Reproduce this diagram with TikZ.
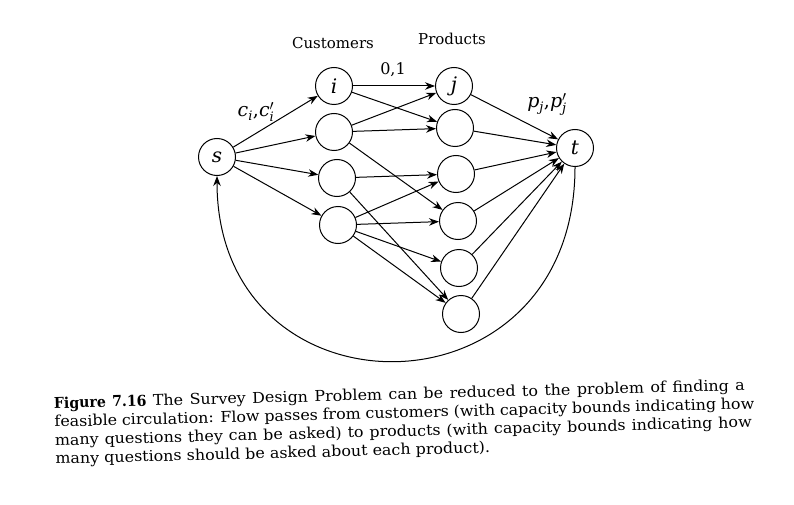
\documentclass[tikz,border=0pt]{standalone}
\usepackage{fontspec}
\setmainfont{DejaVu Serif}
\newfontfamily\capfont{DejaVu Serif}[FakeStretch=1.06]
\newfontfamily\figlab{DejaVu Serif}[FakeStretch=0.94]
\usetikzlibrary{arrows.meta}
\newcommand\subsm[1]{\mbox{\fontsize{13}{13}\selectfont\itshape #1}}
\begin{document}
\begin{tikzpicture}[x=1pt,y=-1pt,
  vtx/.style={circle,draw,line width=1pt,minimum size=37pt,inner sep=0pt,font=\fontsize{20}{24}\selectfont\itshape},
  arr/.style={line width=1pt,-{Stealth[length=10pt,width=7.5pt,inset=3.2pt]}},
  lbl/.style={font=\fontsize{15}{18.5}\selectfont,inner sep=0pt},
  mlbl/.style={font=\fontsize{19}{22}\selectfont,inner sep=0pt}]
\path[use as bounding box] (0,0) rectangle (794,505);
% nodes
\node[vtx] (s) at (217,157) {s};
\node[vtx] (c1) at (334,86) {i};
\node[vtx] (c2) at (334,132) {};
\node[vtx] (c3) at (337,178) {};
\node[vtx] (c4) at (338,225) {};
\node[vtx] (p1) at (454,86) {j};
\node[vtx] (p2) at (455,128) {};
\node[vtx] (p3) at (456,174) {};
\node[vtx] (p4) at (458,221) {};
\node[vtx] (p5) at (459,268) {};
\node[vtx] (p6) at (461,314) {};
\node[vtx] (t) at (575,148) {t};
% labels
\node[lbl,anchor=base] (cust) at (333,49) {Customers};
\node[lbl,anchor=base] (prod) at (452,45) {Products};
\node[lbl,font=\fontsize{16}{18}\selectfont,anchor=base] (l01) at (393,75) {0,1};
\node[mlbl,anchor=base] (lc) at (256,117) {\textit{c}$_{\subsm{i}}$,\textit{c}$^{\prime}_{\subsm{i}}$};
\node[mlbl,anchor=base] (lp) at (547,108) {\textit{p}$_{\subsm{j}}$,\textit{p}$^{\prime}_{\subsm{j}}$};
% edges
\foreach \c in {c1,c2,c3,c4} \draw[arr] (s) -- (\c);
\draw[arr] (c1) -- (p1);
\draw[arr] (c1) -- (p2);
\draw[arr] (c2) -- (p1);
\draw[arr] (c2) -- (p2);
\draw[arr] (c2) -- (p4);
\draw[arr] (c3) -- (p3);
\draw[arr] (c3) -- (p6);
\draw[arr] (c4) -- (p3);
\draw[arr] (c4) -- (p4);
\draw[arr] (c4) -- (p5);
\draw[arr] (c4) -- (p6);
\foreach \p in {p1,p2,p3,p4,p5,p6} \draw[arr] (\p) -- (t);
\draw[arr] (t.south) .. controls +(0,257) and +(0,248) .. (s.south);
% caption
\node[lbl,anchor=base west,rotate=1.5] (cap) at (54,408.5) {\capfont\vtop{\baselineskip=18.5pt
\hbox to 691pt{{\figlab\bfseries Figure 7.16} The Survey Design Problem can be reduced to the problem of finding a}
\hbox to 700pt{feasible circulation: Flow passes from customers (with capacity bounds indicating how}
\hbox to 697pt{many questions they can be asked) to products (with capacity bounds indicating how}
\hbox{many questions should be asked about each product).}}};
\end{tikzpicture}
\end{document}
